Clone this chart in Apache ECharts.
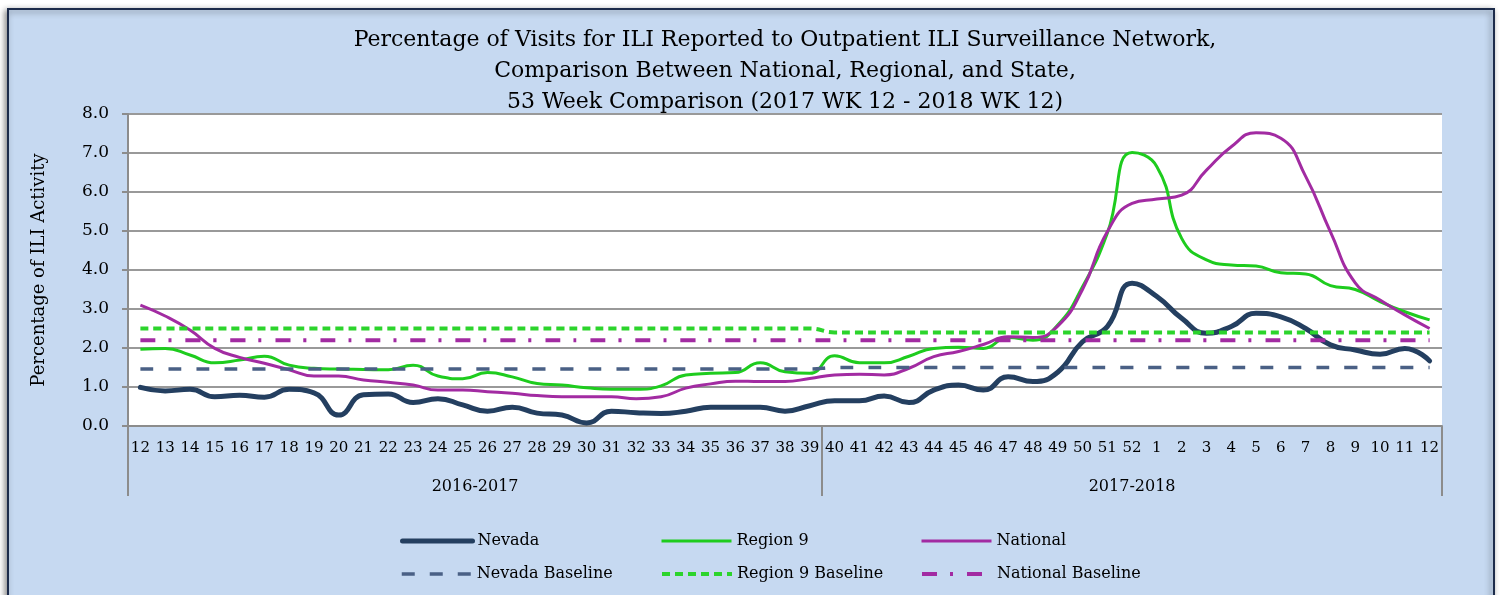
<!DOCTYPE html>
<html>
<head>
<meta charset="utf-8">
<script src="https://cdn.jsdelivr.net/npm/echarts@6/dist/echarts.min.js"></script>
<style>
html,body{margin:0;padding:0;background:#fff;}
#chart{width:1501px;height:595px;}
</style>
</head>
<body>
<div id="chart"></div>
<script>
// week labels, 2016-2017 season (12..39) then 2017-2018 season (40..52, 1..12)
var weeks = ['12','13','14','15','16','17','18','19','20','21','22','23','24','25','26','27','28','29','30','31','32','33','34','35','36','37','38','39',
    '40','41','42','43','44','45','46','47','48','49','50','51','52','1','2','3','4','5','6','7','8','9','10','11','12'];
var seasons = ['2016-2017', '2017-2018'];
var seasonWeeks = [28, 25];

var nevada = [0.99,0.90,0.94,0.75,0.79,0.74,0.94,0.85,0.28,0.80,0.82,0.60,0.70,0.54,0.38,0.48,0.33,0.28,0.08,0.38,0.34,0.32,0.38,0.48,0.48,0.48,0.38,0.52,
    0.65,0.65,0.77,0.60,0.92,1.05,0.92,1.26,1.14,1.38,2.16,2.55,3.66,3.32,2.76,2.38,2.55,2.89,2.80,2.50,2.08,1.95,1.84,1.99,1.67];
var region9 = [1.97,1.99,1.82,1.62,1.69,1.79,1.56,1.48,1.46,1.45,1.44,1.56,1.28,1.21,1.37,1.26,1.09,1.05,0.98,0.94,0.94,1.03,1.31,1.35,1.37,1.62,1.39,1.35,
    1.80,1.62,1.62,1.79,1.99,2.02,1.99,2.27,2.20,2.59,3.57,4.94,7.01,6.65,4.81,4.26,4.13,4.10,3.93,3.90,3.60,3.50,3.19,2.93,2.72];
var national = [3.10,2.82,2.46,1.99,1.76,1.61,1.44,1.28,1.28,1.18,1.12,1.05,0.92,0.92,0.88,0.84,0.78,0.75,0.75,0.75,0.70,0.75,0.97,1.08,1.15,1.14,1.14,1.22,
    1.31,1.33,1.31,1.48,1.78,1.91,2.09,2.29,2.27,2.56,3.50,4.98,5.71,5.82,5.92,6.56,7.16,7.52,7.38,6.40,4.98,3.67,3.23,2.85,2.50];
// baseline per season
var nevadaBaseline = [1.46, 1.50];
var region9Baseline = [2.50, 2.40];
var nationalBaseline = [2.20, 2.20];

function perWeek(seasonValues) {
    var out = [];
    seasonValues.forEach(function (v, i) {
        for (var k = 0; k < seasonWeeks[i]; k++) out.push(v);
    });
    return out;
}

// season boundaries and centres on a 0..N scale
var totalWeeks = 0;
var bounds = [0];
var mids = [];
seasonWeeks.forEach(function (n) {
    mids.push(totalWeeks + n / 2);
    totalWeeks += n;
    bounds.push(totalWeeks);
});

var font = 'DejaVu Serif';
var axisGrey = '#8C8C8C';

var myChart = echarts.init(document.getElementById('chart'));

function lineSeries(name, data, color, width, type, cap) {
    return {
        name: name,
        type: 'line',
        data: data,
        smooth: true,
        symbol: 'none',
        xAxisIndex: 0,
        lineStyle: { color: color, width: width, type: type || 'solid', cap: cap || 'butt' },
        itemStyle: { color: color },
        emphasis: { disabled: true }
    };
}

function oneLegend(name, left, top, width) {
    return {
        data: [name],
        left: left,
        top: top,
        itemWidth: 70,
        itemHeight: 14,
        itemStyle: { opacity: 0 },
        lineStyle: { width: width },
        selectedMode: false,
        textStyle: { fontFamily: font, fontSize: 16, color: '#000' }
    };
}

var option = {
    backgroundColor: '#fff',
    animation: false,
    graphic: [{
        type: 'rect',
        z: -10,
        silent: true,
        shape: { x: 8, y: 9, width: 1486, height: 600 },
        style: {
            fill: '#C6D9F1',
            stroke: '#1C2B4A',
            lineWidth: 2,
            shadowBlur: 6,
            shadowColor: 'rgba(0,0,0,0.45)',
            shadowOffsetX: -2,
            shadowOffsetY: 2
        }
    }],
    title: {
        text: 'Percentage of Visits for ILI Reported to Outpatient ILI Surveillance Network,\nComparison Between National, Regional, and State,\n53 Week Comparison (2017 WK 12 - 2018 WK 12)',
        left: 780,
        top: 20,
        textAlign: 'center',
        textStyle: {
            fontFamily: font,
            fontSize: 22,
            fontWeight: 'normal',
            color: '#000',
            lineHeight: 31
        }
    },
    legend: [
        oneLegend('Nevada', 395, 528, 5),
        oneLegend('Region 9', 655, 528, 3),
        oneLegend('National', 915, 528, 3),
        oneLegend('Nevada Baseline', 395, 561, 3.5),
        oneLegend('Region 9 Baseline', 655, 561, 4),
        oneLegend('National Baseline', 915, 561, 4)
    ],
    grid: {
        left: 128,
        right: 59,
        top: 114,
        bottom: 169,
        show: true,
        backgroundColor: '#fff',
        borderWidth: 0
    },
    xAxis: [{
        type: 'category',
        data: weeks,
        boundaryGap: true,
        axisLine: { lineStyle: { color: axisGrey, width: 2 } },
        axisTick: { show: false },
        axisLabel: {
            interval: 0,
            margin: 15,
            fontFamily: font,
            fontSize: 15,
            color: '#000'
        },
        splitLine: { show: false }
    }, {
        type: 'value',
        position: 'bottom',
        min: 0,
        max: totalWeeks,
        axisLine: { show: false },
        splitLine: { show: false },
        axisTick: {
            show: true,
            customValues: bounds,
            length: 70,
            lineStyle: { color: axisGrey, width: 2 }
        },
        axisLabel: {
            show: true,
            customValues: mids,
            margin: 53,
            fontFamily: font,
            fontSize: 16,
            color: '#000',
            formatter: function (value) {
                var i = mids.indexOf(value);
                return i >= 0 ? seasons[i] : '';
            }
        }
    }],
    yAxis: {
        type: 'value',
        min: 0,
        max: 8,
        interval: 1,
        name: 'Percentage of ILI Activity',
        nameLocation: 'middle',
        nameGap: 80,
        nameTextStyle: { fontFamily: font, fontSize: 18, color: '#000' },
        axisLine: { show: true, lineStyle: { color: axisGrey, width: 2 } },
        axisTick: { show: true, length: 6, lineStyle: { color: axisGrey, width: 2 } },
        axisLabel: {
            margin: 19,
            fontFamily: font,
            fontSize: 17,
            color: '#000',
            formatter: function (value) { return value.toFixed(1); }
        },
        splitLine: { show: true, lineStyle: { color: '#999999', width: 2 } }
    },
    series: [
        lineSeries('Nevada', nevada, '#243F60', 5, 'solid', 'round'),
        lineSeries('Region 9', region9, '#1ECC1E', 3),
        lineSeries('National', national, '#A22BA2', 3),
        lineSeries('Nevada Baseline', perWeek(nevadaBaseline), '#4A6085', 3.5, [13, 15]),
        lineSeries('Region 9 Baseline', perWeek(region9Baseline), '#2CD42C', 4, [8, 5]),
        lineSeries('National Baseline', perWeek(nationalBaseline), '#A22BA2', 4, [15, 13, 3, 14])
    ]
};

myChart.setOption(option);
</script>
</body>
</html>
